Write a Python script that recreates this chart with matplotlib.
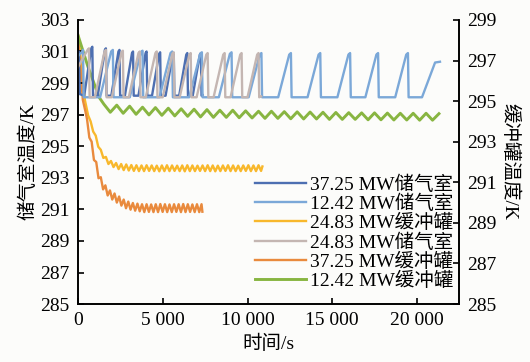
import matplotlib
matplotlib.use('Agg')
import matplotlib.pyplot as plt

# 储气室温度 (左轴), 时间 s
db_t = [0, 60, 110,
        370, 790, 850, 890,
        1170, 1590, 1650, 1690,
        1970, 2390, 2450, 2490,
        2770, 3190, 3250, 3290,
        3570, 3990, 4050, 4090,
        4370, 4790, 4850, 4890,
        5170, 5590, 5650, 5690,
        5970, 6390, 6450, 6490,
        6770, 7190, 7250, 7290,
        7350]
db_T = [300.9, 301.0, 298.3,
        298.2, 301.2, 301.3, 298.2,
        298.2, 301.1, 301.2, 298.2,
        298.2, 301.0, 301.1, 298.2,
        298.2, 300.9, 301.0, 298.2,
        298.2, 300.9, 301.0, 298.2,
        298.2, 300.85, 300.95, 298.2,
        298.2, 300.8, 300.9, 298.2,
        298.2, 300.8, 300.9, 298.2,
        298.2, 300.8, 300.9, 298.2,
        298.25]

lb_t = [0, 260, 300, 340,
        1310, 1960, 2060, 2100,
        3060, 3710, 3810, 3850,
        4810, 5460, 5560, 5600,
        6560, 7210, 7310, 7350,
        8310, 8960, 9060, 9100,
        10070, 10720, 10820, 10860,
        11810, 12460, 12560, 12600,
        13540, 14190, 14290, 14330,
        15300, 15950, 16050, 16090,
        16950, 17600, 17700, 17740,
        18710, 19360, 19460, 19500,
        20290, 21060, 21350]
lb_T = [300.7, 301.0, 301.1, 298.1,
        298.1, 301.0, 301.1, 298.1,
        298.1, 300.95, 301.05, 298.1,
        298.1, 300.9, 301.0, 298.1,
        298.1, 300.85, 300.95, 298.1,
        298.1, 300.85, 300.95, 298.1,
        298.1, 300.8, 300.9, 298.1,
        298.1, 300.8, 300.9, 298.1,
        298.1, 300.8, 300.9, 298.1,
        298.1, 300.8, 300.9, 298.1,
        298.1, 300.8, 300.9, 298.1,
        298.1, 300.8, 300.9, 298.1,
        298.1, 300.3, 300.35]

gr_t = [0, 570, 650, 690,
        1000, 1570, 1650, 1690,
        2000, 2570, 2650, 2690,
        3000, 3570, 3650, 3690,
        4000, 4570, 4650, 4690,
        5000, 5570, 5650, 5690,
        6000, 6570, 6650, 6690,
        7000, 7570, 7650, 7690,
        8000, 8570, 8650, 8690,
        9000, 9570, 9650, 9690,
        10000, 10570, 10650, 10690,
        10800]
gr_T = [300.0, 301.1, 301.2, 298.1,
        298.1, 301.0, 301.1, 298.1,
        298.1, 300.95, 301.05, 298.1,
        298.1, 300.9, 301.0, 298.1,
        298.1, 300.9, 301.0, 298.1,
        298.1, 300.85, 300.95, 298.1,
        298.1, 300.8, 300.9, 298.1,
        298.1, 300.8, 300.9, 298.1,
        298.1, 300.8, 300.9, 298.1,
        298.1, 300.8, 300.9, 298.1,
        298.1, 300.8, 300.9, 298.1,
        298.15]

# 缓冲罐温度 (右轴)
ye_t = [0, 200, 410, 600,
        750, 900, 1050, 1200, 1350, 1500, 1650, 1800, 1950, 2100,
        2250, 2400, 2550, 2700, 2850, 3000, 3150, 3300,
        3450, 3600, 3750, 3900, 4050, 4200, 4350, 4500, 4650, 4800,
        4950, 5100, 5250, 5400, 5550, 5700, 5850, 6000, 6150, 6300,
        6450, 6600, 6750, 6900, 7050, 7200, 7350, 7500, 7650, 7800,
        7950, 8100, 8250, 8400, 8550, 8700, 8850, 9000, 9150, 9300,
        9450, 9600, 9750, 9900, 10050, 10200, 10350, 10500, 10650, 10800,
        10880]
ye_T = [298.26, 296.9, 295.06, 294.3,
        294.0, 293.5, 293.3, 292.75, 292.6, 292.2, 292.25, 291.9, 292.05, 291.75,
        291.95, 291.65, 291.9, 291.6, 291.88, 291.58, 291.85, 291.56,
        291.84, 291.55, 291.83, 291.55, 291.84, 291.56, 291.83, 291.55, 291.82, 291.54,
        291.83, 291.55, 291.84, 291.55, 291.83, 291.56, 291.82, 291.55, 291.83, 291.54,
        291.84, 291.55, 291.83, 291.55, 291.82, 291.56, 291.83, 291.55, 291.84, 291.55,
        291.83, 291.54, 291.82, 291.55, 291.83, 291.56, 291.84, 291.55, 291.83, 291.55,
        291.82, 291.55, 291.83, 291.56, 291.84, 291.55, 291.83, 291.55, 291.84, 291.56,
        291.78]

or_t = [0, 290, 440,
        540, 675, 810, 945, 1080, 1215, 1350, 1485, 1620, 1755,
        1890, 2025, 2160, 2295, 2430, 2565, 2700, 2835, 2970, 3105,
        3240, 3375, 3510, 3645, 3780, 3915, 4050, 4185, 4320, 4455,
        4590, 4725, 4860, 4995, 5130, 5265, 5400, 5535, 5670, 5805,
        5940, 6075, 6210, 6345, 6480, 6615, 6750, 6885, 7020, 7155,
        7290, 7340]
or_T = [298.26, 295.06, 294.5,
        294.1, 293.2, 293.0, 292.1, 292.0, 291.2, 291.25, 290.65, 290.85, 290.35,
        290.6, 290.15, 290.45, 290.0, 290.3, 289.85, 290.15, 289.72, 290.05, 289.65,
        289.98, 289.6, 289.95, 289.57, 289.92, 289.53, 289.92, 289.54, 289.91, 289.53,
        289.92, 289.53, 289.93, 289.54, 289.92, 289.53, 289.91, 289.53, 289.92, 289.54,
        289.92, 289.53, 289.93, 289.53, 289.92, 289.54, 289.91, 289.53, 289.92, 289.53,
        289.92, 289.55]

gn_t = [0, 590, 940, 1240,
        1530, 1910, 2290, 2670, 3050, 3430, 3810, 4190, 4570, 4950,
        5330, 5710, 6090, 6470, 6850, 7230, 7610, 7990, 8370, 8750,
        9130, 9510, 9890, 10270, 10650, 11030, 11410, 11790, 12170, 12550,
        12930, 13310, 13690, 14070, 14450, 14830, 15210, 15590, 15970, 16350,
        16730, 17110, 17490, 17870, 18250, 18630, 19010, 19390, 19770, 20150,
        20530, 20910, 21290]
gn_T = [298.26, 296.7, 295.9, 295.2,
        294.85, 294.45, 294.8, 294.4, 294.75, 294.35, 294.7, 294.32, 294.68, 294.3,
        294.65, 294.27, 294.62, 294.25, 294.6, 294.22, 294.58, 294.2, 294.55, 294.2,
        294.55, 294.18, 294.52, 294.17, 294.5, 294.15, 294.5, 294.15, 294.48, 294.13,
        294.47, 294.12, 294.46, 294.12, 294.45, 294.1, 294.44, 294.1, 294.43, 294.1,
        294.42, 294.08, 294.42, 294.08, 294.41, 294.07, 294.4, 294.07, 294.4, 294.06,
        294.4, 294.06, 294.38]

x_ticks = [0, 5000, 10000, 15000, 20000]
x_tick_labels = ['0', '5 000', '10 000', '15 000', '20 000']
left_ticks = [285, 287, 289, 291, 293, 295, 297, 299, 301, 303]
right_ticks = [285, 287, 289, 291, 293, 295, 297, 299]

plt.rcParams['font.family'] = ['Liberation Serif', 'Noto Sans CJK SC']
plt.rcParams['font.size'] = 14

fig = plt.figure(figsize=(5.3, 3.62), dpi=100, facecolor='#fcfcfa')
ax = fig.add_axes([0.147, 0.160, 0.719, 0.785])
ax.set_facecolor('none')
ax2 = ax.twinx()

lw = 1.7
l1, = ax.plot(db_t, db_T, color='#4d6fb1', lw=lw, label='37.25 MW储气室')
l2, = ax.plot(lb_t, lb_T, color='#7ba8d8', lw=lw, label='12.42 MW储气室')
l4, = ax.plot(gr_t, gr_T, color='#c4b6b2', lw=lw, label='24.83 MW储气室')
l3, = ax2.plot(ye_t, ye_T, color='#f8b82c', lw=lw, label='24.83 MW缓冲罐')
l5, = ax2.plot(or_t, or_T, color='#e98a3d', lw=lw, label='37.25 MW缓冲罐')
l6, = ax2.plot(gn_t, gn_T, color='#88b541', lw=lw + 0.4, label='12.42 MW缓冲罐')
ax.set_zorder(ax2.get_zorder() + 1)

ax.set_xlim(0, 22470)
ax.set_ylim(285, 303)
ax2.set_ylim(285, 299)
ax.set_xticks(x_ticks)
ax.set_xticklabels(x_tick_labels)
ax.set_yticks(left_ticks)
ax2.set_yticks(right_ticks)

for a in (ax, ax2):
    a.spines['top'].set_visible(False)
    for s in a.spines.values():
        s.set_linewidth(1.2)
    a.tick_params(direction='in', length=4, width=1.2, labelsize=14)
ax.tick_params(axis='y', pad=6)
ax.tick_params(axis='x', pad=6)
ax2.tick_params(axis='y', pad=6)

ax.set_xlabel('时间/s', labelpad=4)
ax.set_ylabel('储气室温度/K', labelpad=2)
ax2.set_ylabel('缓冲罐温度/K', rotation=270, labelpad=16)

handles = [l1, l2, l3, l4, l5, l6]
ax.legend(handles, [h.get_label() for h in handles], loc='lower right',
          bbox_to_anchor=(0.985, 0.05), frameon=False, handlelength=2.6,
          handletextpad=0.2, labelspacing=0.05, borderpad=0, borderaxespad=0,
          fontsize=14)

fig.savefig('out.png', dpi=100, facecolor=fig.get_facecolor())
